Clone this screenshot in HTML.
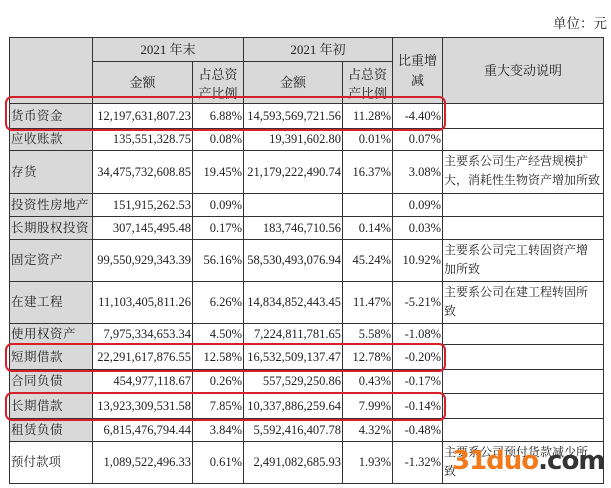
<!DOCTYPE html>
<html><head><meta charset="utf-8"><style>
body{margin:0;width:611px;height:488px;background:#fff;position:relative;overflow:hidden;font-family:"Liberation Serif","Noto Serif CJK SC",serif;font-size:12.5px;color:#222}
.unit{position:absolute;right:4px;top:12px;font-size:13.5px}
table{position:absolute;left:9px;top:37px;width:594px;border-collapse:collapse;table-layout:fixed}
td{border:1px solid #333;padding:0 1px;white-space:nowrap;overflow:hidden;line-height:15px}
td.n{text-align:right}
td.l{text-align:left;background:#d9d9d9;letter-spacing:0.5px}
.h td{background:#d9d9d9;text-align:center;font-size:13px}
td.d{vertical-align:top;padding:0 1px}
td.d div{font-size:12px;line-height:19px;height:40px;overflow:hidden;white-space:nowrap;padding-top:1px}
.box{position:absolute;border:2px solid #d8202a;border-radius:7px}
.wm{position:absolute;left:452px;top:446px;font-family:"DejaVu Sans",sans-serif;font-weight:bold;font-size:26px;color:#f27a1a;letter-spacing:-1px}
.wm span{color:#333}
</style></head><body>
<div class="unit">单位：元</div>
<table>
<colgroup><col style="width:83px"><col style="width:100px"><col style="width:51px"><col style="width:99px"><col style="width:50px"><col style="width:50px"><col style="width:161px"></colgroup>
<tr class="h" style="height:24px"><td rowspan="2"></td><td colspan="2">2021 年末</td><td colspan="2">2021 年初</td><td rowspan="2" style="white-space:normal;line-height:20px">比重增减</td><td rowspan="2">重大变动说明</td></tr>
<tr class="h" style="height:41px"><td>金额</td><td style="white-space:normal;line-height:19px;vertical-align:top;padding-top:3px">占总资产比例</td><td>金额</td><td style="white-space:normal;line-height:19px;vertical-align:top;padding-top:3px">占总资产比例</td></tr>
<tr style="height:25px"><td class="l">货币资金</td><td class="n">12,197,631,807.23</td><td class="n">6.88%</td><td class="n">14,593,569,721.56</td><td class="n">11.28%</td><td class="n">-4.40%</td><td></td></tr>
<tr style="height:22px"><td class="l">应收账款</td><td class="n">135,551,328.75</td><td class="n">0.08%</td><td class="n">19,391,602.80</td><td class="n">0.01%</td><td class="n">0.07%</td><td></td></tr>
<tr style="height:43px"><td class="l">存货</td><td class="n">34,475,732,608.85</td><td class="n">19.45%</td><td class="n">21,179,222,490.74</td><td class="n">16.37%</td><td class="n">3.08%</td><td class="d"><div>主要系公司生产经营规模扩<br>大，消耗性生物资产增加所致</div></td></tr>
<tr style="height:23px"><td class="l">投资性房地产</td><td class="n">151,915,262.53</td><td class="n">0.09%</td><td class="n"></td><td class="n"></td><td class="n">0.09%</td><td></td></tr>
<tr style="height:23px"><td class="l">长期股权投资</td><td class="n">307,145,495.48</td><td class="n">0.17%</td><td class="n">183,746,710.56</td><td class="n">0.14%</td><td class="n">0.03%</td><td></td></tr>
<tr style="height:42px"><td class="l">固定资产</td><td class="n">99,550,929,343.39</td><td class="n">56.16%</td><td class="n">58,530,493,076.94</td><td class="n">45.24%</td><td class="n">10.92%</td><td class="d"><div>主要系公司完工转固资产增<br>加所致</div></td></tr>
<tr style="height:42px"><td class="l">在建工程</td><td class="n">11,103,405,811.26</td><td class="n">6.26%</td><td class="n">14,834,852,443.45</td><td class="n">11.47%</td><td class="n">-5.21%</td><td class="d"><div>主要系公司在建工程转固所<br>致</div></td></tr>
<tr style="height:21px"><td class="l">使用权资产</td><td class="n">7,975,334,653.34</td><td class="n">4.50%</td><td class="n">7,224,811,781.65</td><td class="n">5.58%</td><td class="n">-1.08%</td><td></td></tr>
<tr style="height:25px"><td class="l">短期借款</td><td class="n">22,291,617,876.55</td><td class="n">12.58%</td><td class="n">16,532,509,137.47</td><td class="n">12.78%</td><td class="n">-0.20%</td><td></td></tr>
<tr style="height:24px"><td class="l">合同负债</td><td class="n">454,977,118.67</td><td class="n">0.26%</td><td class="n">557,529,250.86</td><td class="n">0.43%</td><td class="n">-0.17%</td><td></td></tr>
<tr style="height:25px"><td class="l">长期借款</td><td class="n">13,923,309,531.58</td><td class="n">7.85%</td><td class="n">10,337,886,259.64</td><td class="n">7.99%</td><td class="n">-0.14%</td><td></td></tr>
<tr style="height:23px"><td class="l">租赁负债</td><td class="n">6,815,476,794.44</td><td class="n">3.84%</td><td class="n">5,592,416,407.78</td><td class="n">4.32%</td><td class="n">-0.48%</td><td></td></tr>
<tr style="height:42px"><td style="background:#fff">预付款项</td><td class="n">1,089,522,496.33</td><td class="n">0.61%</td><td class="n">2,491,082,685.93</td><td class="n">1.93%</td><td class="n">-1.32%</td><td class="d"><div>主要系公司预付货款减少所<br>致</div></td></tr>
</table>
<div class="box" style="left:5px;top:96px;width:437px;height:31px"></div>
<div class="box" style="left:5px;top:343px;width:437px;height:25px"></div>
<div class="box" style="left:5px;top:392px;width:437px;height:25px"></div>
<div class="wm">31duo<span>.com</span></div>
</body></html>
